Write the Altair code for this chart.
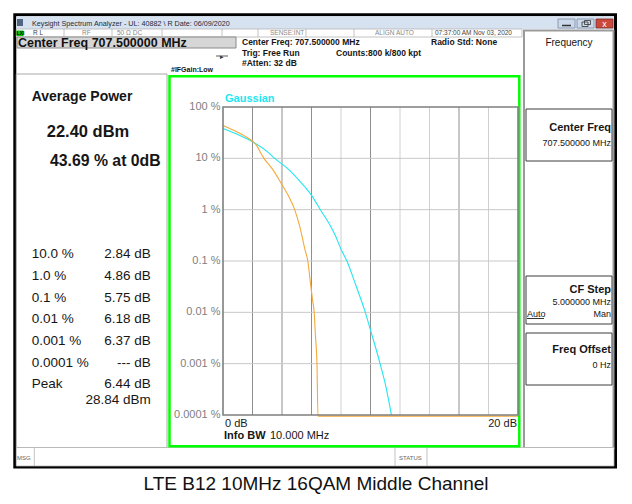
import altair as alt
import pandas as pd

# ---------------- data ----------------
# measured CCDF (orange): power above average (dB) vs probability (%)
DB_MEAS = [0.0, 0.9, 1.6, 2.0, 2.3, 2.55, 2.78, 3.1, 3.4, 3.96, 4.42, 4.86, 5.21,
           5.55, 5.75, 5.93, 6.07, 6.18, 6.27, 6.37, 6.44, 20.0]
PCT_MEAS = [43.69, 33.3, 25.8, 21.5, 17.5, 12.8, 10.0, 7.6, 5.9, 3.2, 1.9, 1.0, 0.46,
            0.17, 0.1, 0.037, 0.0176, 0.01, 0.0034, 0.001, 0.000095, 0.000095]
# Gaussian reference trace (cyan)
DB_GAUSS = [0.0, 1.0, 2.0, 3.0, 3.5, 4.5, 5.2, 6.0, 6.6, 7.2, 7.6, 8.0, 8.4, 9.0, 9.6,
            10.0, 10.65, 11.05, 11.42]
PCT_GAUSS = [38.0, 29.0, 21.0, 13.5, 10.0, 5.9, 3.6, 1.9, 1.0, 0.53, 0.32, 0.17, 0.1, 0.034,
             0.011, 0.0045, 0.001, 0.00035, 0.0001]

Y_TICKS = [100, 10, 1, 0.1, 0.01, 0.001, 0.0001]
Y_TICK_LABELS = ["100 %", "10 %", "1 %", "0.1 %", "0.01 %", "0.001 %", "0.0001 %"]
GRID_DB = [2, 4, 6, 8, 10, 12, 14, 16, 18]
GRID_SHADE = ["dark", "dark", "dark", "light", "dark", "light", "light", "dark", "light"]
X_END_DB = [0, 20]
X_END_LABELS = ["0 dB", "20 dB"]

STAT_LABELS = ["10.0 %", "1.0 %", "0.1 %", "0.01 %", "0.001 %", "0.0001 %", "Peak"]
STAT_VALUES = ["2.84 dB", "4.86 dB", "5.75 dB", "6.18 dB", "6.37 dB", "--- dB", "6.44 dB"]
PEAK_DBM = "28.84 dBm"
AVG_POWER = "22.40 dBm"
AT_0DB = "43.69 % at 0dB"

# ---------------- layout (page pixels) ----------------
X0, Y0 = 223.0, 107.0      # page position of the plot area's top-left corner
W, H = 295, 308
SVG_W, SVG_H = 616, 487
ORANGE = "#f5a93a"
CYAN = "#22e6f0"
FONT = "Liberation Sans"

xs = alt.Scale(domain=[0, 20])
ys = alt.Scale(type="log", domain=[0.0001, 100])


def rect_layer(rows):
    df = pd.DataFrame(rows, columns=["x1", "y1", "x2", "y2", "fill", "stroke", "sw"])
    df[["x1", "x2"]] -= X0
    df[["y1", "y2"]] -= Y0
    return alt.Chart(df).mark_rect().encode(
        x=alt.X("x1:Q", scale=None), x2="x2:Q",
        y=alt.Y("y1:Q", scale=None), y2="y2:Q",
        fill=alt.Fill("fill:N", scale=None),
        stroke=alt.Stroke("stroke:N", scale=None),
        strokeWidth=alt.StrokeWidth("sw:Q", scale=None),
    )


def rule_layer(rows):
    df = pd.DataFrame(rows, columns=["x1", "y1", "x2", "y2", "color", "sw"])
    df[["x1", "x2"]] -= X0
    df[["y1", "y2"]] -= Y0
    return alt.Chart(df).mark_rule().encode(
        x=alt.X("x1:Q", scale=None), x2="x2:Q",
        y=alt.Y("y1:Q", scale=None), y2="y2:Q",
        color=alt.Color("color:N", scale=None),
        strokeWidth=alt.StrokeWidth("sw:Q", scale=None),
    )


def text_layer(rows, weight="normal", align="left", font=FONT):
    df = pd.DataFrame(rows, columns=["t", "x", "y", "size", "color"])
    df["x"] -= X0
    df["y"] -= Y0
    return alt.Chart(df).mark_text(font=font, fontWeight=weight, align=align,
                                   baseline="alphabetic").encode(
        x=alt.X("x:Q", scale=None), y=alt.Y("y:Q", scale=None), text="t:N",
        size=alt.Size("size:Q", scale=None), color=alt.Color("color:N", scale=None),
    )


# window chrome
chrome = rect_layer([
    (14.8, 14.8, 615.5, 467.0, "#ffffff", "#000000", 3),
    (16.3, 16.3, 614.0, 29.0, "#d6e2f0", "#d6e2f0", 0),
    (17.0, 19.0, 23.0, 26.0, "#4f6582", "#4f6582", 0),
    (558, 19, 575, 28, "#cbd9ea", "#7b8ca3", 0.8),
    (577, 19, 594, 28, "#cbd9ea", "#7b8ca3", 0.8),
    (596, 19, 613, 28, "#c9493b", "#7d2d24", 0.8),
    (582, 22, 588, 26.5, "transparent", "#333333", 0.8),
    (584.5, 20.5, 590.5, 24.5, "transparent", "#333333", 0.8),
    (16.3, 29.0, 522.0, 37.0, "#ffffff", "#b4b4b4", 0.8),
    (16.5, 30.5, 23.5, 36.0, "#00c800", "#00c800", 0),
    (17.0, 37.0, 236.0, 48.0, "#d6d6d6", "#8a8a8a", 1),
    (16.3, 74.0, 167.0, 447.5, "#ffffff", "#a8a8a8", 1),
    (524.0, 30.5, 613.5, 448.0, "#ffffff", "#9a9a9a", 2),
    (526, 109, 612, 161, "#ffffff", "#3c3c3c", 1),
    (526, 276, 612, 324, "#ffffff", "#3c3c3c", 1),
    (526, 333, 612, 385, "#ffffff", "#3c3c3c", 1),
    (16.3, 447.5, 614.0, 466.0, "#ffffff", "#b4b4b4", 0.8),
    (169.5, 76.2, 519.3, 446.2, "transparent", "#00ff00", 2.5),
])

chrome_rules = rule_layer(
    [(sx, 29.0, sx, 37.0, "#b4b4b4", 0.8) for sx in [64, 112, 162, 222, 258, 306, 354, 432]]
    + [
        (34.3, 447.5, 34.3, 466.0, "#b4b4b4", 0.8),
        (395.0, 447.5, 395.0, 466.0, "#b4b4b4", 0.8),
        (427.0, 447.5, 427.0, 466.0, "#b4b4b4", 0.8),
        (562.0, 25.5, 571.0, 25.5, "#333333", 1.5),
        (527.0, 318.5, 544.0, 318.5, "#000000", 0.8),
        (216.0, 56.0, 228.0, 56.0, "#333333", 0.8),
    ]
)

# grid
vgrid = alt.Chart(pd.DataFrame({"db": GRID_DB, "shade": GRID_SHADE})).mark_rule(strokeWidth=1).encode(
    x=alt.X("db:Q", scale=xs, axis=None),
    color=alt.Color("shade:N", scale=alt.Scale(domain=["dark", "light"], range=["#8f8f8f", "#d0d0d0"]),
                    legend=None),
)
hgrid = alt.Chart(pd.DataFrame({"p": Y_TICKS[1:-1]})).mark_rule(strokeWidth=1, color="#c8c8c8").encode(
    y=alt.Y("p:Q", scale=ys, axis=None),
)
frame = alt.Chart(pd.DataFrame({"a": [0]})).mark_rect(fill="transparent", stroke="#7f7f7f",
                                                       strokeWidth=1.6).encode(
    x=alt.value(0), x2=alt.value(W), y=alt.value(0), y2=alt.value(H)
)

gauss = alt.Chart(pd.DataFrame({"db": DB_GAUSS, "pct": PCT_GAUSS})).mark_line(
    color=CYAN, strokeWidth=1.1, interpolate="monotone").encode(
    x=alt.X("db:Q", scale=xs, axis=None), y=alt.Y("pct:Q", scale=ys, axis=None)
)
meas = alt.Chart(pd.DataFrame({"db": DB_MEAS, "pct": PCT_MEAS})).mark_line(
    color=ORANGE, strokeWidth=1.1, interpolate="monotone").encode(
    x=alt.X("db:Q", scale=xs, axis=None), y=alt.Y("pct:Q", scale=ys, axis=None)
)

ylabels = alt.Chart(pd.DataFrame({"p": Y_TICKS, "lab": Y_TICK_LABELS})).mark_text(
    font=FONT, fontSize=11, color="#808080", align="right", baseline="middle").encode(
    x=alt.value(-2.5), y=alt.Y("p:Q", scale=ys, axis=None), text="lab:N"
)
xend = pd.DataFrame({"db": X_END_DB, "lab": X_END_LABELS})
xlab_left = alt.Chart(xend.iloc[[0]]).mark_text(
    font=FONT, fontSize=11, color="#1a1a1a", align="left", baseline="alphabetic", dx=2).encode(
    x=alt.X("db:Q", scale=xs, axis=None), y=alt.value(319.5), text="lab:N"
)
xlab_right = alt.Chart(xend.iloc[[1]]).mark_text(
    font=FONT, fontSize=11, color="#1a1a1a", align="right", baseline="alphabetic", dx=-1).encode(
    x=alt.X("db:Q", scale=xs, axis=None), y=alt.value(319.5), text="lab:N"
)

# texts
TXT = "#161616"
normal_left = text_layer([
    ("Keysight Spectrum Analyzer - UL: 40882 \\ R Date: 06/09/2020", 32, 25.5, 7.2, "#1e2a3a"),
    ("R L", 33, 35.3, 6.5, "#444444"),
    ("RF", 82, 35.3, 6.5, "#8a8a8a"),
    ("50 \u03a9   DC", 117, 35.3, 6.5, "#8a8a8a"),
    ("SENSE:INT", 270, 35.3, 6.5, "#8a8a8a"),
    ("ALIGN AUTO", 375, 35.3, 6.5, "#8a8a8a"),
    ("07:37:00 AM Nov 03, 2020", 435, 35.3, 6.5, "#444444"),
    ("Auto", 527, 317, 9, TXT),
    ("10.000 MHz", 270, 439, 11, TXT),
    ("MSG", 17, 460, 6, "#666666"),
    ("STATUS", 399, 460, 6, "#666666"),
] + [(lab, 31.7, 258.3 + i * 21.67, 13.5, TXT) for i, lab in enumerate(STAT_LABELS)])

normal_right = text_layer([
    ("707.500000 MHz", 611, 146, 9, TXT),
    ("5.000000 MHz", 611, 305, 9, TXT),
    ("Man", 611, 317, 9, TXT),
    ("0 Hz", 611, 368, 9, TXT),
    (PEAK_DBM, 150.7, 404, 13.5, TXT),
] + [(v, 150.7, 258.3 + i * 21.67, 13.5, TXT) for i, v in enumerate(STAT_VALUES)], align="right")

normal_center = text_layer([
    ("Frequency", 569, 46, 10, TXT),
    ("\u25b8", 222, 58.5, 7, "#333333"),
    ("x", 604.5, 26.8, 9, "#ffffff"),
    ("LTE B12 10MHz 16QAM Middle Channel", 316, 489.5, 19, "#111111"),
], align="center")

bold_left = text_layer([
    ("LXI", 16.6, 35.3, 5, "#000000"),
    ("Center Freq 707.500000 MHz", 18, 46.5, 12.5, "#111111"),
    ("Center Freq: 707.500000 MHz", 242, 45, 8.5, TXT),
    ("Trig: Free Run", 242, 55.5, 8.5, TXT),
    ("#Atten: 32 dB", 242, 66, 8.5, TXT),
    ("Counts:800 k/800 kpt", 336, 55.5, 8.5, TXT),
    ("Radio Std: None", 431, 45, 8.5, TXT),
    ("#IFGain:Low", 171, 71.5, 7, TXT),
    ("Average Power", 31.7, 100.7, 14, TXT),
    (AVG_POWER, 46.7, 137.3, 16.5, TXT),
    (AT_0DB, 50, 166, 15.8, TXT),
    ("Gaussian", 225, 101.7, 11, CYAN),
    ("Info BW", 224, 439, 11, TXT),
], weight="bold")

bold_right = text_layer([
    ("Center Freq", 611, 131, 11, TXT),
    ("CF Step", 611, 293, 11, TXT),
    ("Freq Offset", 611, 353, 11, TXT),
], weight="bold", align="right")

chart = alt.layer(
    chrome, chrome_rules, vgrid, hgrid, gauss, meas, frame, ylabels, xlab_left, xlab_right,
    normal_left, normal_right, normal_center, bold_left, bold_right,
).resolve_scale(
    x="independent", y="independent", color="independent"
).properties(
    width=W, height=H,
    autosize=alt.AutoSizeParams(type="none"),
    padding={"left": X0 - 8, "top": Y0 - 8, "right": SVG_W - (X0 - 8) - W,
             "bottom": SVG_H - (Y0 - 8) - H},
    background="#ffffff",
).configure_view(stroke=None)

chart.save("out.html", embed_options={"renderer": "svg", "actions": False})
